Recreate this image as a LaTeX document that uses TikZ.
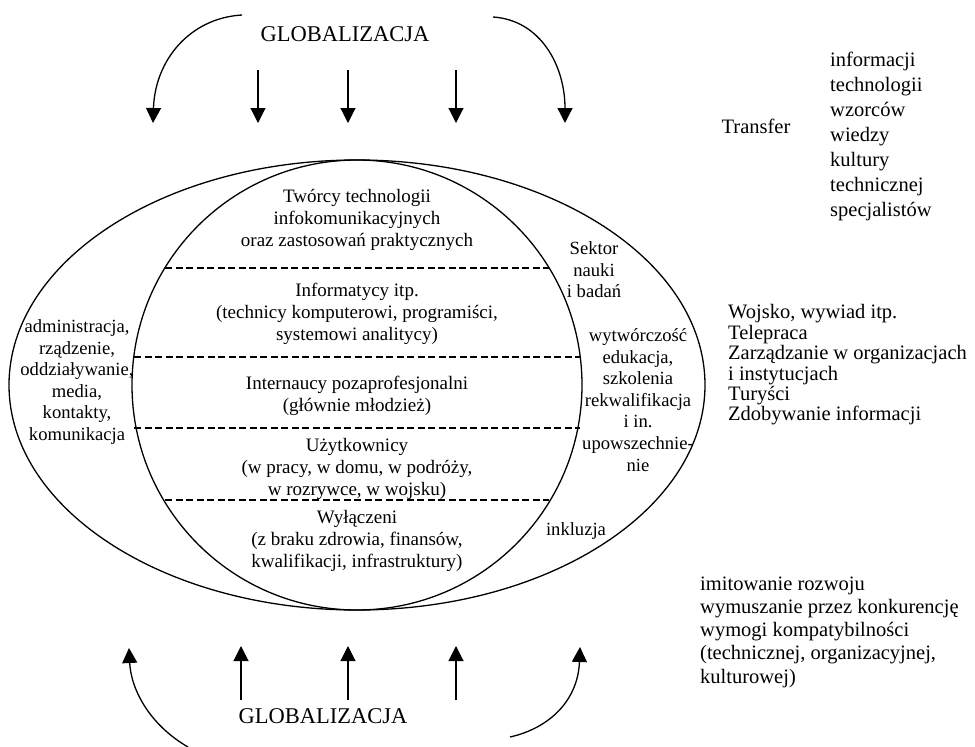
\documentclass[tikz,border=0pt]{standalone}
\usepackage{fontspec}
\setmainfont{Liberation Serif}
\usetikzlibrary{arrows.meta}
\begin{document}
\begin{tikzpicture}[x=1pt,y=-1pt,
  line/.style={line width=1.3pt},
  garrow/.style={line width=1.3pt,-{Triangle[length=15pt,width=15pt]}},
  sarrow/.style={line width=1.1pt,-{Triangle[length=15pt,width=15pt]}},
  divider/.style={line width=1.4pt,dash pattern=on 7pt off 3.5pt},
  inner/.style={align=center,inner sep=0pt,font=\fontsize{19}{22}\selectfont},
  side/.style={align=center,inner sep=0pt,font=\fontsize{18.6}{21.6}\selectfont},
  list/.style={align=left,inner sep=0pt,anchor=west},
  glob/.style={inner sep=0pt,font=\fontsize{22.5}{24}\selectfont}]
\useasboundingbox (0,0) rectangle (975,747);
% shapes
\draw[line] (357,385) ellipse [x radius=348, y radius=225];
\draw[line] (357,385) circle [radius=225];
% dividers
\coordinate (d1l) at (165,268); \coordinate (d1r) at (549,268);
\coordinate (d2l) at (134,357); \coordinate (d2r) at (580,357);
\coordinate (d3l) at (134,428); \coordinate (d3r) at (580,428);
\coordinate (d4l) at (165,500); \coordinate (d4r) at (549,500);
\draw[divider] (d1l) -- (d1r);
\draw[divider] (d2l) -- (d2r);
\draw[divider] (d3l) -- (d3r);
\draw[divider] (d4l) -- (d4r);
% inner texts
\node[inner] (b1) at (357,220) {Twórcy technologii\\infokomunikacyjnych\\oraz zastosowań praktycznych};
\node[inner] (b2) at (357,314) {Informatycy itp.\\(technicy komputerowi, programiści,\\systemowi analitycy)};
\node[inner] (b3) at (357,396) {Internaucy pozaprofesjonalni\\(głównie młodzież)};
\node[inner] (b4) at (357,469) {Użytkownicy\\(w pracy, w domu, w podróży,\\w rozrywce, w wojsku)};
\node[inner] (b5) at (357,541) {Wyłączeni\\(z braku zdrowia, finansów,\\kwalifikacji, infrastruktury)};
% side texts
\node[side] (left) at (77,382) {administracja,\\rządzenie,\\oddziaływanie,\\media,\\kontakty,\\komunikacja};
\node[side] (sektor) at (594,270) {Sektor\\nauki\\i badań};
\node[side] (wytw) at (638,400) {wytwórczość\\edukacja,\\szkolenia\\rekwalifikacja\\i in.\\upowszechnie-\\nie};
\node[side] (inkl) at (576,531) {inkluzja};
% right lists
\node[inner sep=0pt,font=\fontsize{20.5}{25}\selectfont] (transfer) at (756,126) {Transfer};
\node[list,font=\fontsize{20.5}{25}\selectfont] (tlist) at (830,136) {informacji\\technologii\\wzorców\\wiedzy\\kultury\\technicznej\\specjalistów};
\node[list,font=\fontsize{20.5}{20.4}\selectfont] (mlist) at (728,365) {Wojsko, wywiad itp.\\Telepraca\\Zarządzanie w organizacjach\\i instytucjach\\Turyści\\Zdobywanie informacji};
\node[list,font=\fontsize{20.5}{23.2}\selectfont] (blist) at (700,632) {imitowanie rozwoju\\wymuszanie przez konkurencję\\wymogi kompatybilności\\(technicznej, organizacyjnej,\\kulturowej)};
% globalization top
\node[glob] (gtop) at (345,34) {GLOBALIZACJA};
\coordinate (tl0) at (242,15); \coordinate (tl1) at (153,123);
\coordinate (tr0) at (493,17); \coordinate (tr1) at (565,123);
\draw[garrow] (tl0) .. controls (190,18) and (155,60) .. (tl1);
\draw[garrow] (tr0) .. controls (540,20) and (565,65) .. (tr1);
\foreach \x/\n in {258/a,348/b,456/c}{
  \coordinate (ts\n) at (\x,70); \coordinate (te\n) at (\x,123);
  \draw[sarrow] (ts\n) -- (te\n);
}
% globalization bottom
\node[glob] (gbot) at (323,716) {GLOBALIZACJA};
\coordinate (bl0) at (188,747); \coordinate (bl1) at (129,648);
\coordinate (br0) at (510,737); \coordinate (br1) at (580,647);
\draw[garrow] (bl0) .. controls (150,725) and (131,690) .. (bl1);
\draw[garrow] (br0) .. controls (550,728) and (578,700) .. (br1);
\foreach \x/\n in {241/a,348/b,456/c}{
  \coordinate (bs\n) at (\x,700); \coordinate (be\n) at (\x,646);
  \draw[sarrow] (bs\n) -- (be\n);
}
\end{tikzpicture}
\end{document}
